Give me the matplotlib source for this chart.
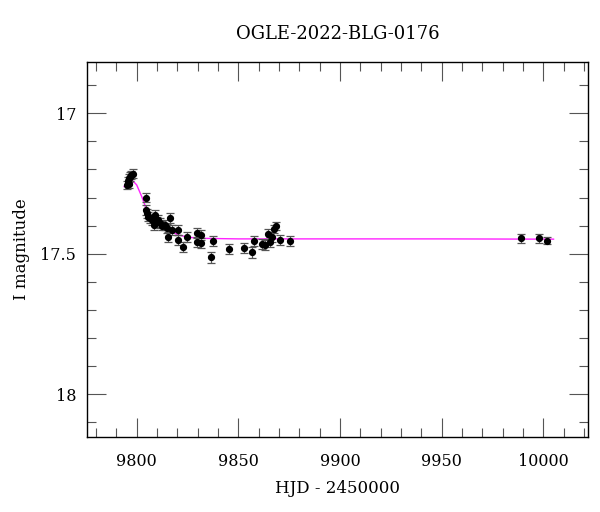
import matplotlib
matplotlib.use("Agg")
import matplotlib.pyplot as plt
from matplotlib.ticker import MultipleLocator

plt.rcParams["font.family"] = ["DejaVu Serif"]

# observations (HJD - 2450000, I mag, error)
hjd = [9795.3, 9795.6, 9796.0, 9796.2, 9796.8, 9797.4, 9798.0,
       9804.6, 9804.6, 9805.2, 9805.7, 9806.5, 9807.4, 9808.7, 9809.0,
       9809.8, 9810.6, 9811.5, 9812.3, 9813.9, 9814.8, 9815.5, 9816.4,
       9817.5, 9820.5, 9820.5, 9822.6, 9824.6, 9829.5, 9829.5, 9831.6,
       9831.6, 9836.5, 9837.7, 9845.4, 9852.6, 9856.6, 9857.6, 9861.5,
       9863.1, 9864.4, 9865.6, 9866.7, 9867.7, 9868.4, 9870.6, 9875.6,
       9988.9, 9997.7, 10001.7]
mag = [17.255, 17.240, 17.250, 17.230, 17.225, 17.220, 17.215,
       17.300, 17.344, 17.356, 17.368, 17.374, 17.380, 17.397, 17.362,
       17.386, 17.380, 17.390, 17.400, 17.397, 17.410, 17.440, 17.374,
       17.415, 17.415, 17.450, 17.477, 17.441, 17.427, 17.457, 17.433,
       17.463, 17.512, 17.453, 17.482, 17.478, 17.495, 17.454, 17.465,
       17.469, 17.431, 17.457, 17.439, 17.412, 17.401, 17.451, 17.453,
       17.445, 17.445, 17.453]
err = [0.015, 0.015, 0.015, 0.015, 0.015, 0.015, 0.015,
       0.017, 0.017, 0.017, 0.017, 0.017, 0.017, 0.017, 0.017,
       0.017, 0.017, 0.017, 0.017, 0.017, 0.017, 0.017, 0.018,
       0.018, 0.018, 0.018, 0.018, 0.018, 0.018, 0.018, 0.018,
       0.018, 0.020, 0.018, 0.018, 0.018, 0.020, 0.018, 0.018,
       0.018, 0.018, 0.018, 0.018, 0.015, 0.015, 0.018, 0.018,
       0.015, 0.015, 0.012]

# model curve
model_hjd = [9793.8, 9795.2, 9796.7, 9798.3, 9800.0, 9802.5, 9804.9,
             9807.4, 9810.6, 9815.5, 9820.5, 9825.4, 9831.1, 9850.0,
             9900.0, 9950.0, 10005.0]
model_mag = [17.261, 17.242, 17.235, 17.242, 17.255, 17.297, 17.344,
             17.374, 17.392, 17.415, 17.433, 17.441, 17.445, 17.447,
             17.447, 17.447, 17.448]

title = "OGLE-2022-BLG-0176"

fig = plt.figure(figsize=(6.0, 5.12), dpi=100)
ax = fig.add_axes([0.1455, 0.1471, 0.834, 0.7312])

ax.plot(model_hjd, model_mag, color="#ff22ff", lw=1.0, zorder=2)
ax.errorbar(hjd, mag, yerr=err, fmt="o", color="black", ms=4.2,
            ecolor="#555555", elinewidth=0.9, capsize=2.6, capthick=0.9,
            zorder=3)

ax.set_xlim(9775.7, 10021.8)
ax.set_ylim(18.151, 16.8185)
ax.xaxis.set_major_locator(MultipleLocator(50))
ax.xaxis.set_minor_locator(MultipleLocator(10))
ax.yaxis.set_major_locator(MultipleLocator(0.5))
ax.yaxis.set_minor_locator(MultipleLocator(0.1))
ax.set_yticks([17, 17.5, 18])
ax.set_yticklabels(["17", "17.5", "18"])

ax.tick_params(which="both", direction="in", top=True, right=True,
               width=0.8, color="#555555", labelsize=11.5)
ax.tick_params(which="major", length=13.5)
ax.tick_params(which="minor", length=6.7)
ax.tick_params(axis="x", pad=12)
ax.tick_params(axis="y", pad=8)
for s in ax.spines.values():
    s.set_linewidth(1.0)

ax.set_xlabel("HJD - 2450000", fontsize=12, labelpad=7)
ax.set_ylabel("I magnitude", fontsize=12, labelpad=7.5)
ax.set_title(title, fontsize=13, pad=17)

fig.savefig("out.png", dpi=100)
